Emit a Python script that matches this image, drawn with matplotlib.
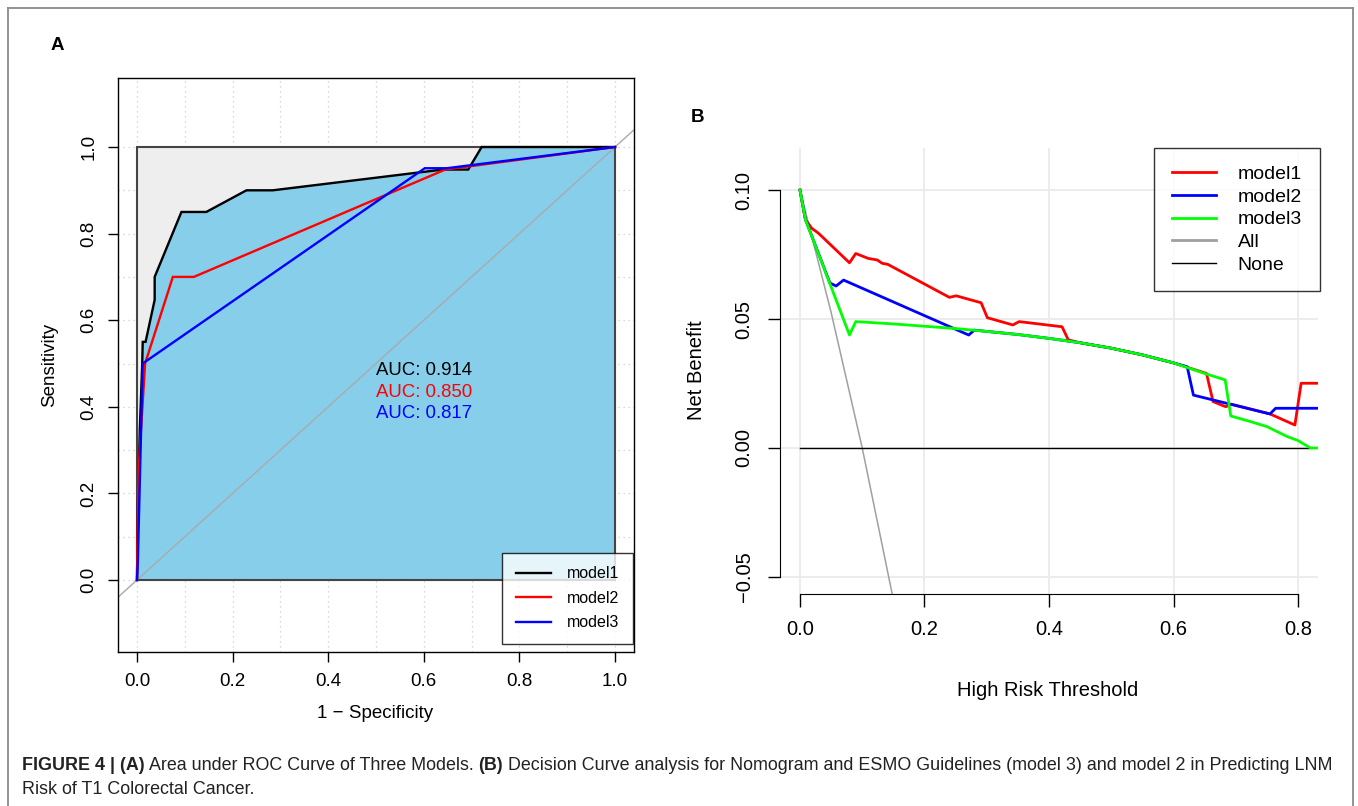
import matplotlib
matplotlib.use('Agg')
import matplotlib.pyplot as plt
from matplotlib.lines import Line2D
from matplotlib.patches import Polygon, Rectangle

plt.rcParams['font.family'] = ['Liberation Sans', 'DejaVu Sans']

# ---------------- data: panel A (ROC) ----------------
roc_ticks = [0.0, 0.2, 0.4, 0.6, 0.8, 1.0]
roc_tick_labels = ['0.0', '0.2', '0.4', '0.6', '0.8', '1.0']
roc_models = ['model1', 'model2', 'model3']
roc_colors = ['black', '#FF0000', '#0000FF']
auc_labels = ['AUC: 0.914', 'AUC: 0.850', 'AUC: 0.817']

m1_fpr = [0.0, 0.002, 0.006, 0.011, 0.012, 0.018, 0.037, 0.037, 0.093, 0.145,
          0.229, 0.284, 0.640, 0.693, 0.721, 1.0]
m1_tpr = [0.0, 0.18, 0.35, 0.50, 0.55, 0.55, 0.647, 0.70, 0.85, 0.85,
          0.90, 0.90, 0.948, 0.948, 1.0, 1.0]
m2_fpr = [0.0, 0.003, 0.017, 0.075, 0.119, 0.645, 1.0]
m2_tpr = [0.0, 0.25, 0.50, 0.70, 0.70, 0.948, 1.0]
m3_fpr = [0.0, 0.002, 0.012, 0.602, 0.648, 1.0]
m3_tpr = [0.0, 0.05, 0.50, 0.951, 0.951, 1.0]

# ---------------- data: panel B (decision curves) ----------------
dca_xticks = [0.0, 0.2, 0.4, 0.6, 0.8]
dca_xtick_labels = ['0.0', '0.2', '0.4', '0.6', '0.8']
dca_yticks = [-0.05, 0.0, 0.05, 0.10]
dca_ytick_labels = ['\u22120.05', '0.00', '0.05', '0.10']
dca_names = ['model1', 'model2', 'model3', 'All', 'None']

red_x = [0.0, 0.0087, 0.0188, 0.030, 0.0795, 0.0896, 0.1096, 0.124, 0.132, 0.141,
         0.240, 0.251, 0.291, 0.301, 0.342, 0.352, 0.421, 0.431, 0.45, 0.50,
         0.55, 0.60, 0.653, 0.6635, 0.684, 0.693, 0.755, 0.795, 0.805, 0.83]
red_y = [0.100, 0.0886, 0.0852, 0.0832, 0.0718, 0.0754, 0.0735, 0.0729, 0.0716, 0.0712,
         0.0584, 0.0590, 0.0563, 0.0505, 0.0477, 0.0490, 0.0470, 0.0419, 0.0408, 0.0387,
         0.0361, 0.0330, 0.0289, 0.0180, 0.0160, 0.0170, 0.0132, 0.0089, 0.0251, 0.0251]

blue_x = [0.0, 0.0087, 0.048, 0.058, 0.070, 0.271, 0.280, 0.30, 0.35, 0.40,
          0.45, 0.50, 0.55, 0.60, 0.622, 0.632, 0.755, 0.764, 0.83]
blue_y = [0.100, 0.0886, 0.0640, 0.0628, 0.0651, 0.0438, 0.0457, 0.0452, 0.0440, 0.0425,
          0.0408, 0.0387, 0.0361, 0.0330, 0.0315, 0.0205, 0.0132, 0.0154, 0.0154]

green_x = [0.0, 0.0087, 0.0795, 0.0896, 0.15, 0.20, 0.25, 0.30, 0.35, 0.40,
           0.45, 0.50, 0.55, 0.60, 0.65, 0.683, 0.692, 0.72, 0.75, 0.783,
           0.80, 0.82, 0.83]
green_y = [0.100, 0.0886, 0.0438, 0.0490, 0.0481, 0.0472, 0.0463, 0.0452, 0.0440, 0.0425,
           0.0408, 0.0387, 0.0361, 0.0330, 0.0289, 0.0264, 0.0124, 0.0105, 0.0083, 0.0044,
           0.0029, 0.0000, 0.0000]

all_x = [0.0, 0.05, 0.10, 0.15]
all_y = [0.100, 0.0526, 0.0, -0.0588]
none_x = [0.0, 0.82]
none_y = [0.0, 0.0]

caption_line1 = [("FIGURE 4 | (A)", 'bold'),
                 (" Area under ROC Curve of Three Models. ", 'normal'),
                 ("(B)", 'bold'),
                 (" Decision Curve analysis for Nomogram and ESMO Guidelines (model 3) and model 2 in Predicting LNM", 'normal')]
caption_line2 = "Risk of T1 Colorectal Cancer."

# ---------------- figure ----------------
W, H = 1358, 806
fig = plt.figure(figsize=(W / 100, H / 100), dpi=100)


def fx(px):
    return px / W


def fy(py):
    return 1 - py / H


# outer frame
frame_kw = dict(transform=fig.transFigure, color='#8a8a8a', lw=1.3)
fig.add_artist(Line2D([fx(7.5), fx(7.5)], [fy(812), fy(8)], **frame_kw))
fig.add_artist(Line2D([fx(7.5), fx(1352.5)], [fy(8), fy(8)], **frame_kw))
fig.add_artist(Line2D([fx(1352.5), fx(1352.5)], [fy(8), fy(812)], **frame_kw))

# ---------------- panel A ----------------
axA = fig.add_axes([fx(118), fy(652), (634 - 118) / W, (652 - 78) / H])
axA.set_xlim(-0.0397, 1.0397)
axA.set_ylim(-0.1663, 1.1594)

for i in range(11):
    v = i / 10
    axA.axvline(v, color='#cccccc', ls=(0, (1, 3)), lw=0.9, zorder=0)
    axA.axhline(v, color='#cccccc', ls=(0, (1, 3)), lw=0.9, zorder=0)

axA.add_patch(Rectangle((0, 0), 1, 1, facecolor='#EEEEEE', edgecolor='none', zorder=1))
axA.add_patch(Polygon(list(zip(m1_fpr, m1_tpr)) + [(1.0, 0.0)], closed=True,
                      facecolor='#87CEEB', edgecolor='none', zorder=2))
axA.add_patch(Rectangle((0, 0), 1, 1, fill=False, edgecolor='#444444', lw=1.5, zorder=3))
axA.axline((0, 0), (1, 1), color='#AAAAAA', lw=1.0, zorder=3)

for fpr, tpr, c, z in [(m1_fpr, m1_tpr, roc_colors[0], 4),
                       (m2_fpr, m2_tpr, roc_colors[1], 5),
                       (m3_fpr, m3_tpr, roc_colors[2], 6)]:
    axA.plot(fpr, tpr, color=c, lw=1.7, zorder=z, solid_joinstyle='miter')

for k, (lab, c) in enumerate(zip(auc_labels, roc_colors)):
    axA.text(0.5, 0.483 - 0.0495 * k, lab, color=c, fontsize=13.4, ha='left', va='center', zorder=7)

axA.set_xticks(roc_ticks)
axA.set_xticklabels(roc_tick_labels)
axA.set_yticks(roc_ticks)
axA.set_yticklabels(roc_tick_labels, rotation=90, va='center')
axA.tick_params(direction='out', length=7, width=1, pad=8, labelsize=13.5)
for s in axA.spines.values():
    s.set_linewidth(1.0)
    s.set_zorder(8)

hA = [Line2D([], [], color=c, lw=1.7) for c in roc_colors]
legA = axA.legend(hA, roc_models, loc='lower right', bbox_to_anchor=(0.998, 0.014),
                  fontsize=11.5, frameon=True, fancybox=False, borderpad=0.85,
                  handlelength=2.2, handletextpad=1.0, labelspacing=0.6, borderaxespad=0)
legA.get_frame().set_edgecolor('black')
legA.get_frame().set_linewidth(1.0)
legA.set_zorder(10)

fig.text(fx(50), fy(365), 'Sensitivity', rotation=90, ha='center', va='center', fontsize=13.5)
fig.text(fx(375), fy(713), '1 \u2212 Specificity', ha='center', va='center', fontsize=13.5)
fig.text(fx(57), fy(45), 'A', ha='center', va='center', fontsize=13.5, fontweight='bold')

# ---------------- panel B ----------------
axB = fig.add_axes([fx(780), fy(594), (1318 - 780) / W, (594 - 148) / H])
axB.set_xlim(-0.0321, 0.8321)
axB.set_ylim(-0.0566, 0.1163)
for v in dca_xticks:
    axB.axvline(v, color='#EBEBEB', lw=1.3, zorder=0)
for v in dca_yticks:
    axB.axhline(v, color='#EBEBEB', lw=1.3, zorder=0)

axB.plot(all_x, all_y, color='#A0A0A0', lw=1.1, zorder=2)
axB.plot(none_x, none_y, color='black', lw=1.0, zorder=2)
axB.plot(red_x, red_y, color='#FF0000', lw=2.0, zorder=3)
axB.plot(blue_x, blue_y, color='#0000FF', lw=2.0, zorder=4)
axB.plot(green_x, green_y, color='#00FF00', lw=2.0, zorder=5)

axB.set_xticks(dca_xticks)
axB.set_xticklabels(dca_xtick_labels)
axB.set_yticks(dca_yticks)
axB.set_yticklabels(dca_ytick_labels, rotation=90, va='center')
axB.tick_params(direction='out', length=9, width=1, pad=10, labelsize=14.5)
axB.spines['top'].set_visible(False)
axB.spines['right'].set_visible(False)
axB.spines['left'].set_bounds(-0.05, 0.10)
axB.spines['bottom'].set_bounds(0.0, 0.8)

hB = [Line2D([], [], color='#FF0000', lw=2.0), Line2D([], [], color='#0000FF', lw=2.0),
      Line2D([], [], color='#00FF00', lw=2.0), Line2D([], [], color='#A0A0A0', lw=2.0),
      Line2D([], [], color='black', lw=1.0)]
legB = axB.legend(hB, dca_names, loc='upper right', bbox_to_anchor=(1.003, 1.0),
                  fontsize=14, frameon=True, fancybox=False, borderpad=0.9,
                  handlelength=2.3, handletextpad=1.1, labelspacing=0.26, borderaxespad=0)
legB.get_frame().set_edgecolor('black')
legB.get_frame().set_linewidth(1.0)
legB.set_zorder(10)

fig.text(fx(697), fy(370), 'Net Benefit', rotation=90, ha='center', va='center', fontsize=14.5)
fig.text(fx(1048), fy(690), 'High Risk Threshold', ha='center', va='center', fontsize=14.5)
fig.text(fx(698), fy(118), 'B', ha='center', va='center', fontsize=13.5, fontweight='bold')

# ---------------- caption ----------------
renderer = fig.canvas.get_renderer()
xpos = fx(22)
for txt, wt in caption_line1:
    t = fig.text(xpos, fy(766), txt, ha='left', va='center', fontsize=12.9,
                 fontweight=wt, color='#222222')
    bb = t.get_window_extent(renderer=renderer)
    xpos += bb.width / W
fig.text(fx(22), fy(790), caption_line2, ha='left', va='center', fontsize=12.9, color='#222222')

fig.savefig('out.png', dpi=100)
